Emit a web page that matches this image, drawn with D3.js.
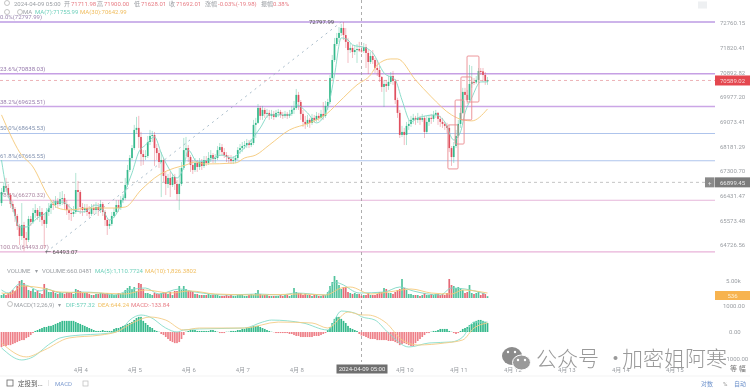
<!DOCTYPE html>
<html>

<head>
    <meta charset="utf-8">
    <script src="https://d3js.org/d3.v7.min.js"></script>
    <style>
        html, body { margin: 0; background: #fff; overflow: hidden; }
        svg { display: block; filter: blur(0.45px); }
        text { font-family: Roboto, "Noto Sans CJK SC", sans-serif; }
    </style>
    <script>
        const w = 750
        const h = 389

        const firstOpen = 66173
        const closes = [
            66560,66772,66701,66453,66139,65966,65725,65380,65035,65414,
            64966,64897,65621,65518,65828,65932,65725,65863,65587,65449,
            65863,66001,66139,66104,66242,66139,66312,66347,66139,65932,
            65828,65794,65863,66630,66560,66035,65932,66001,65863,65794,
            66001,65932,66035,65932,66139,65863,65587,65380,65449,65725,
            65863,66104,66001,66277,66347,66807,67338,67763,68119,68774,
            68847,68519,67905,67798,67834,68337,68556,68592,68119,67940,
            67621,67692,67126,66843,67055,66807,67090,66843,66489,66843,
            67409,68046,68119,67798,67515,67338,67586,67444,67621,67480,
            67692,67586,67763,67869,67727,67763,68046,68155,67975,67869,
            67798,67727,67657,67692,67763,68046,68119,68192,68228,68301,
            68228,68301,68956,69029,69575,69284,69502,69356,69393,69284,
            69356,69247,69393,69429,69320,69284,69356,69284,69356,69502,
            69575,70055,69793,69356,69065,68992,69138,69029,69211,69138,
            69284,69211,69356,69284,69648,69793,70680,71355,71960,72190,
            72380,72570,72300,72040,71730,71810,71655,71730,71770,71711.98,
            71692.01,71845,71620,71280,71505,71355,71055,70980,70720,70350,
            70460,70385,70535,70755,70570,69866,69393,68592,68701,68592,
            68920,68992,69138,69211,69138,69211,69138,69211,68701,69065,
            69211,69174,69320,69393,69174,69065,68992,68920,68847,68119,
            67798,68192,68556,68992,69393,70165,70055,69866,70460,70535,
            70520,70610,70945,70930,70795,70570,70589.02
        ]
        const highs = [
            66701,66914,67055,66843,66524,66242,66035,65794,65449,66173,
            65518,65173,65725,65725,66001,66139,66001,66070,66001,65828,
            66001,66173,66277,66277,66418,66347,66560,66595,66489,66277,
            66139,66001,66070,67232,66949,66630,66173,66139,66139,66070,
            66139,66139,66208,66173,66277,66208,65932,65656,65587,65863,
            66001,66277,66277,66418,66489,67055,67515,67869,68228,68956,
            69247,69284,68701,68046,68046,68556,68774,68738,68701,68264,
            68046,67975,67763,67268,67197,67268,67197,67197,66984,67409,
            67621,68483,68519,68228,67869,67692,67763,67692,67763,67727,
            67834,67834,67975,68046,67940,67905,68192,68301,68264,68119,
            67975,67869,67869,67834,67869,68155,68264,68337,68374,68446,
            68410,68446,69138,69211,69720,69648,69648,69575,69538,69502,
            69502,69466,69502,69538,69502,69429,69466,69429,69502,69648,
            69830,70275,70165,69866,69502,69284,69320,69211,69356,69320,
            69429,69393,69502,69793,69830,69910,70795,71545,72190,72380,
            72605,72720,72797.99,72570,72190,72000,71925,71885,71960,72040,
            71900,72000,71960,71730,71655,71730,71430,71355,71130,70755,
            70610,70610,70755,70905,70945,70645,69950,69502,68920,68847,
            69065,69138,69284,69356,69284,69393,69284,69356,69284,69284,
            69320,69356,69466,69502,69429,69284,69211,69065,69029,68956,
            68192,68337,68774,69138,69575,70315,70315,70240,71170,71130,
            70680,70755,71055,71055,71055,70905,70720
        ]
        const lows = [
            66070,66489,66560,66347,66001,65863,65518,65242,64725,64897,
            64518,64690,64828,65380,65449,65656,65587,65518,65380,64621,
            65311,65725,65794,65932,66001,66001,66070,66104,65932,65759,
            65587,65552,65690,65794,65863,65794,65725,65828,65725,65656,
            65725,65794,65794,65725,65828,65725,65380,65069,65276,65380,
            65656,65794,65863,65932,66173,66277,66737,67268,67692,68046,
            68628,68119,67480,67515,67692,67763,68228,68337,67480,67692,
            67409,66383,66914,66453,66701,66383,66737,66630,66277,65932,
            66772,67338,67834,67621,67268,67197,67268,67268,67338,67338,
            67409,67480,67515,67621,67586,67586,67692,67869,67834,67763,
            67621,67586,67550,67550,67586,67692,67905,67975,68082,68119,
            68119,68155,68228,68483,68992,69138,69138,69211,69211,69138,
            69174,69138,69211,69247,69211,69174,69211,69174,69211,69284,
            69356,69502,69502,69138,68883,68810,68883,68847,68956,69029,
            69065,69102,69138,69138,69211,69502,69720,70610,71280,71885,
            72040,72265,72110,71810,71245,71620,71430,71545,71245,71655,
            71628.01,71620,71055,70830,71205,71205,70870,70755,70535,70165,
            69611,70165,70240,70460,70425,69720,69211,68483,68519,68228,
            68228,68774,68883,68992,68956,69029,68956,69065,68483,68628,
            68920,68992,69065,69211,68956,68883,68847,68774,68665,67975,
            67480,67586,68119,68483,68847,69356,69866,69720,69793,70315,
            70425,70460,70495,70795,70535,70425,70425
        ]
        const volumes = [
            880,1180,880,1470,1760,2350,2060,3530,5000,5290,
            4410,3530,2350,2060,2650,1760,2060,1470,1180,4120,
            2940,1760,1760,2060,1470,1180,1760,1470,1180,1760,
            1470,1470,1180,2650,2350,2060,1470,1470,1470,1180,
            880,880,1180,1180,1470,1470,1180,1470,880,1180,
            880,880,1470,1180,1470,2350,2940,3530,2650,3230,
            2060,4410,4120,2650,1470,1470,1180,880,1470,1180,
            1180,1470,1760,1470,1180,1760,880,2060,2060,3530,
            2350,3530,2650,2060,2060,1760,1180,1180,880,880,
            880,880,1180,880,880,880,880,590,590,590,
            880,590,880,590,590,880,880,880,590,590,
            880,1180,880,1470,2350,1180,880,880,880,590,
            590,590,590,590,880,590,880,880,590,880,
            2940,1760,1470,1470,880,1180,880,880,590,880,
            880,590,590,880,880,1760,3530,4700,6470,5290,
            3820,2650,3230,3230,1760,1470,1180,1470,1180,1180,
            660,880,880,1470,880,880,880,1180,1760,1760,
            2940,2650,1470,1470,1180,1760,2350,2650,5590,2940,
            2350,1180,1180,880,880,880,590,880,1470,880,
            880,1180,880,1180,1180,880,1180,880,1470,5590,
            3820,3530,2940,3230,2940,2350,1470,1760,3820,1470,
            1180,1470,1760,880,1470,1180,536
        ]
        const macdHist = [
            -570,-530,-530,-495,-495,-455,-420,-380,-340,-305,
            -305,-230,-190,-115,-40,40,75,115,150,190,
            190,230,230,265,305,340,380,420,420,420,
            420,420,420,380,340,305,265,230,190,150,
            115,75,40,40,40,75,40,40,40,40,
            115,150,150,190,230,265,305,340,380,455,
            530,570,570,420,340,265,190,150,75,40,
            10,-75,-115,-190,-265,-340,-380,-420,-420,-380,
            -265,-115,10,40,75,75,75,40,40,40,
            40,40,40,75,75,40,10,-40,-40,-40,
            10,10,40,40,40,75,75,115,115,150,
            150,190,230,230,230,190,150,115,75,40,
            10,-10,-40,-40,-40,-40,-40,-40,-75,-75,
            -115,-150,-150,-190,-190,-190,-190,-190,-190,-150,
            -150,-150,-115,-75,-40,75,190,340,495,570,
            570,495,420,340,230,150,115,75,40,-75,
            -133.84,-150,-190,-230,-265,-265,-265,-305,-305,-305,
            -305,-305,-340,-340,-340,-380,-420,-495,-455,-420,
            -455,-495,-530,-530,-420,-340,-265,-190,-115,-40,
            -40,10,40,40,75,115,115,115,115,40,
            10,-40,-75,-40,40,115,150,190,265,305,
            380,420,455,455,420,380,340
        ]

        // moving averages at their bends: [candle, value]
        const ma7 = [[0,67692],[2,66737],[5,66001],[8,65345],[11,65345],[16,65656],[20,65863],[23,66208],[27,66208],[32,65932],[36,65863],[42,66104],[45,65932],[48,65587],[53,66104],[56,66807],[58,67232],[61,67975],[64,68228],[68,68519],[71,67940],[74,67444],[78,67055],[81,67444],[83,68046],[87,67621],[92,67692],[98,67869],[102,67763],[107,68046],[110,68301],[115,68847],[119,69320],[128,69320],[131,69684],[136,69393],[140,69029],[145,69575],[148,70795],[151,72190],[154,72110],[156,71925],[162,71810],[165,71620],[170,70870],[175,70610],[178,69866],[182,69065],[185,69211],[193,69320],[197,69065],[201,68410],[204,68701],[206,69393],[209,69950],[213,70535],[216,70535]]
        const ma30 = [[0,69320],[4,68592],[8,67975],[14,67444],[21,66383],[25,66001],[30,65932],[39,66001],[50,66001],[55,66035],[62,66630],[70,67161],[77,67409],[82,67515],[86,67621],[90,67550],[104,67586],[108,67763],[113,67869],[119,68228],[128,68774],[137,69029],[145,69393],[150,69793],[158,70425],[164,70795],[167,71170],[173,71395],[176,71395],[184,70610],[191,69985],[200,69320],[205,69138],[209,69102],[216,69538]]
        const volMa5 = [[0,2350],[3,1470],[8,4120],[12,3530],[17,2060],[20,2650],[26,1470],[35,1760],[44,1470],[50,880],[57,2350],[64,2940],[70,1180],[79,2650],[86,1760],[101,880],[114,1180],[124,880],[131,1470],[144,880],[148,4700],[151,4120],[159,1470],[170,1760],[177,3230],[183,2060],[195,880],[200,2940],[206,2650],[215,1180]]
        const volMa10 = [[0,1470],[4,1180],[9,3530],[18,2940],[26,1760],[44,1470],[55,1180],[64,2350],[75,1470],[84,2060],[95,1180],[115,880],[133,1180],[144,880],[151,2940],[155,3230],[164,1180],[175,2060],[182,2650],[191,1470],[200,1180],[205,2350],[216,1470]]
        const dif = [[0,-600],[9,-1055],[13,-980],[22,-415],[26,-225],[35,-115],[44,-75],[48,-40],[53,75],[57,450],[62,640],[66,565],[73,150],[78,0],[81,75],[88,115],[108,150],[116,375],[120,450],[134,340],[145,75],[151,790],[157,715],[160,577.32],[166,450],[172,-40],[181,-565],[190,-415],[200,-375],[205,-190],[210,375],[216,375]]
        const dea = [[0,-415],[11,-940],[19,-680],[30,-225],[44,-115],[51,0],[59,375],[66,565],[73,450],[81,75],[88,150],[108,150],[123,375],[138,340],[145,150],[154,755],[160,644.24],[163,640],[171,340],[178,-300],[185,-490],[197,-415],[205,-300],[210,150],[216,340]]

        const priceTicks = [72760.15, 71820.41, 70892.82, 69977.20, 69073.41, 68181.29, 67300.70, 66431.47, 65573.48, 64726.56]
        const dayTicks = [35, 59, 83, 107, 131, 179, 203, 227, 251, 275, 299]
        const dayLabels = ["4月 4", "4月 5", "4月 6", "4月 7", "4月 8", "4月 10", "4月 11", "4月 12", "4月 13", "4月 14", "4月 15"]

        const fibPrices = [72797.99, 70838.03, 69625.51, 68645.53, 67665.55, 66270.32, 64493.07]
        const fibLabels = ["0.0%(72797.99)", "23.6%(70838.03)", "38.2%(69625.51)", "50.0%(68645.53)", "61.8%(67665.55)", "78.6%(66270.32)", "100.0%(64493.07)"]
        const fibColors = ["#cdb4ea", "#c69fe4", "#cba6e6", "#aec4ec", "#aec4ec", "#e6b6da", "#e8b2d8"]
        const fibWidths = [1.8, 1.4, 1.6, 1.1, 1.1, 1.1, 1.1]

        // hand drawn boxes: [first candle, last candle, top price, bottom price]
        const boxes = [
            [198.4, 202.9, 68956, 67374],
            [201.6, 205.6, 69866, 68264],
            [204.2, 209, 70720, 69138],
            [206.9, 212.2, 71505, 69793]
        ]

        const lastPrice = 70589.02
        const crossPrice = 66899.45
        const crossCandle = 160

        const up = "#35b98c"
        const down = "#e0505f"
        const teal = "#7fd8c4"
        const orange = "#f5c878"
        const grey = "#9a9ea3"

        function doSVG() {
            const svg = d3.select("body").append("svg")
                .attr("width", w)
                .attr("height", h)

            const x = d3.scaleLinear().domain([0, 216]).range([1.5, 487.5])
            const y = d3.scaleLog().domain([72760.15, 64726.56]).range([23, 245])
            const yVol = d3.scaleLinear().domain([0, 5000]).range([298, 281])
            const yMacd = d3.scaleLinear().domain([-1000, 1000]).range([358.5, 305.5])

            const opens = closes.map((c, i) => i == 0 ? firstOpen : closes[i - 1])
            const candleColor = i => closes[i] >= opens[i] ? up : down
            const idx = d3.range(closes.length)

            // fibonacci levels
            svg.selectAll(".fib")
                .data(fibPrices)
                .enter()
                .append("line")
                .attr("x1", 0)
                .attr("x2", 715)
                .attr("y1", d => y(d))
                .attr("y2", d => y(d))
                .attr("stroke", (d, i) => fibColors[i])
                .attr("stroke-width", (d, i) => fibWidths[i])

            svg.selectAll(".fibLabel")
                .data(fibLabels)
                .enter()
                .append("text")
                .attr("x", 0)
                .attr("y", (d, i) => y(fibPrices[i]) - 3)
                .attr("font-size", 6)
                .attr("fill", (d, i) => d3.color(fibColors[i]).darker(0.8))
                .text(d => d)

            // trend line of the fibonacci tool
            svg.append("line")
                .attr("x1", x(20))
                .attr("y1", y(64493.07))
                .attr("x2", x(151))
                .attr("y2", y(72797.99))
                .attr("stroke", "#9fb4c4")
                .attr("stroke-width", 0.9)
                .attr("stroke-dasharray", "2 4")

            svg.append("text").attr("x", 45).attr("y", 254).attr("font-size", 6).attr("fill", "#555").text("← 64493.07")
            svg.append("text").attr("x", 309).attr("y", 24).attr("font-size", 6).attr("fill", "#555").text("72797.99")

            // price and crosshair lines
            svg.append("line").attr("x1", 0).attr("x2", 715).attr("y1", y(lastPrice)).attr("y2", y(lastPrice))
                .attr("stroke", "#e9a0a4").attr("stroke-width", 0.8).attr("stroke-dasharray", "3 3")
            svg.append("line").attr("x1", 0).attr("x2", 705).attr("y1", y(crossPrice)).attr("y2", y(crossPrice))
                .attr("stroke", "#b5b5b5").attr("stroke-width", 0.8).attr("stroke-dasharray", "3 3")
            svg.append("line").attr("x1", x(crossCandle)).attr("x2", x(crossCandle)).attr("y1", 0).attr("y2", 362)
                .attr("stroke", "#999").attr("stroke-width", 0.8).attr("stroke-dasharray", "3 3")

            // candles
            svg.selectAll(".wick")
                .data(idx)
                .enter()
                .append("line")
                .attr("x1", i => x(i))
                .attr("x2", i => x(i))
                .attr("y1", i => y(highs[i]))
                .attr("y2", i => y(lows[i]))
                .attr("stroke", candleColor)
                .attr("stroke-opacity", 0.55)
                .attr("stroke-width", 0.7)

            svg.selectAll(".body")
                .data(idx)
                .enter()
                .append("rect")
                .attr("x", i => x(i) - 0.85)
                .attr("width", 1.7)
                .attr("y", i => Math.min(y(opens[i]), y(closes[i])))
                .attr("height", i => Math.max(1, Math.abs(y(opens[i]) - y(closes[i]))))
                .attr("fill", candleColor)

            const line = (sy) => d3.line().x(d => x(d[0])).y(d => sy(d[1])).curve(d3.curveMonotoneX)
            const drawLine = (data, sy, color) => svg.append("path")
                .attr("d", line(sy)(data))
                .attr("fill", "none")
                .attr("stroke", color)
                .attr("stroke-width", 0.9)

            drawLine(ma7, y, teal)
            drawLine(ma30, y, orange)

            svg.selectAll(".box")
                .data(boxes)
                .enter()
                .append("rect")
                .attr("x", d => x(d[0]))
                .attr("width", d => x(d[1]) - x(d[0]))
                .attr("y", d => y(d[2]))
                .attr("height", d => y(d[3]) - y(d[2]))
                .attr("rx", 1)
                .attr("fill", "none")
                .attr("stroke", "#ea8a8e")
                .attr("stroke-width", 0.9)

            // volume
            svg.selectAll(".vol")
                .data(idx)
                .enter()
                .append("rect")
                .attr("x", i => x(i) - 0.85)
                .attr("width", 1.7)
                .attr("y", i => yVol(volumes[i]))
                .attr("height", i => yVol(0) - yVol(volumes[i]))
                .attr("fill", candleColor)
                .attr("fill-opacity", 0.85)

            drawLine(volMa5, yVol, teal)
            drawLine(volMa10, yVol, orange)

            // macd
            svg.selectAll(".hist")
                .data(idx)
                .enter()
                .append("rect")
                .attr("x", i => x(i) - 0.85)
                .attr("width", 1.7)
                .attr("y", i => Math.min(yMacd(0), yMacd(macdHist[i])))
                .attr("height", i => Math.abs(yMacd(macdHist[i]) - yMacd(0)))
                .attr("fill", i => macdHist[i] >= 0 ? up : "#ee8088")

            drawLine(dif, yMacd, "#86dccb")
            drawLine(dea, yMacd, "#f4cc86")

            // axes
            const priceAxis = svg.append("g")
                .attr("transform", "translate(716,0)")
                .call(d3.axisRight(y).tickValues(priceTicks).tickFormat(d3.format(".2f")).tickSize(0).tickPadding(4))
            const volAxis = svg.append("g")
                .attr("transform", "translate(716,0)")
                .call(d3.axisRight(yVol).tickValues([5000]).tickFormat(d => "5.00k").tickSize(0).tickPadding(10))
            const macdAxis = svg.append("g")
                .attr("transform", "translate(716,0)")
                .call(d3.axisRight(yMacd).tickValues([1000, 0, -1000]).tickFormat(d3.format(".2f")).tickSize(0).tickPadding(0))
            const timeAxis = svg.append("g")
                .attr("transform", "translate(0,365)")
                .call(d3.axisBottom(x).tickValues(dayTicks).tickFormat((d, i) => dayLabels[i]).tickSize(0).tickPadding(3))

            for (const a of [priceAxis, volAxis, macdAxis, timeAxis]) {
                a.select(".domain").remove()
                a.selectAll("text")
                    .attr("fill", grey)
                    .attr("font-size", 6)
                    .style("font-family", 'Roboto, "Noto Sans CJK SC", sans-serif')
            }
            macdAxis.selectAll(".tick").filter(d => d == 0).select("text").attr("x", 13)
            macdAxis.selectAll(".tick").filter(d => d == 1000).select("text").attr("x", 7)
            macdAxis.selectAll(".tick").filter(d => d == -1000).select("text").attr("x", 7)

            // header and legends, [x, text, color]
            const label = (lx, ly, txt, color, size) => svg.append("text")
                .attr("x", lx).attr("y", ly).attr("font-size", size || 6).attr("fill", color).text(txt)

            const headerRow = [
                [14, "2024-04-09 05:00", grey], [64, "开", grey], [71, "71711.98", "#e77c84"],
                [97, "高", grey], [104, "71900.00", "#e77c84"], [134, "低", grey], [141, "71628.01", "#e77c84"],
                [169, "收", grey], [176, "71692.01", "#e77c84"], [205, "涨幅", grey], [218, "-0.03%(-19.98)", "#e77c84"],
                [261, "振幅", grey], [273, "0.38%", "#e77c84"]
            ]
            headerRow.forEach(d => label(d[0], 5.5, d[1], d[2]))

            const maRow = [[23, "MA", grey], [35, "MA(7):71755.99", "#6fd0bb"], [80, "MA(30):70642.99", "#f0bd5e"]]
            maRow.forEach(d => label(d[0], 14, d[1], d[2]))

            const volRow = [
                [7, "VOLUME", grey], [35, "▾", grey], [42, "VOLUME:660.0481", grey],
                [95, "MA(5):1,110.7724", "#6fd0bb"], [145, "MA(10):1,826.3802", "#f0bd5e"]
            ]
            volRow.forEach(d => label(d[0], 272.5, d[1], d[2]))

            const macdRow = [
                [14, "MACD(12,26,9)", grey], [58, "▾", grey], [66, "DIF:577.32", "#6fd0bb"],
                [98, "DEA:644.24", "#f0bd5e"], [131, "MACD:-133.84", "#e77c84"]
            ]
            macdRow.forEach(d => label(d[0], 306.5, d[1], d[2]))

            const iconAt = [[7, 3], [7, 12], [20, 12], [10, 304]]
            svg.selectAll(".icon")
                .data(iconAt)
                .enter()
                .append("circle")
                .attr("cx", d => d[0])
                .attr("cy", d => d[1])
                .attr("r", 2.5)
                .attr("fill", "none")
                .attr("stroke", "#aaa")
                .attr("stroke-width", 0.7)

            // expand button
            svg.append("rect").attr("x", 698).attr("y", 1.5).attr("width", 9).attr("height", 7).attr("fill", "#eef0f2")

            // price tags
            const tag = (ty, th, tx, tw, txt, fill, color) => {
                svg.append("rect").attr("x", tx).attr("y", ty - th / 2).attr("width", tw).attr("height", th).attr("fill", fill)
                svg.append("text").attr("x", tx + tw / 2).attr("y", ty + 2.2).attr("text-anchor", "middle")
                    .attr("font-size", 6).attr("fill", color).text(txt)
            }
            tag(y(lastPrice), 10, 715, 35, d3.format(".2f")(lastPrice), "#e4474f", "#f7d5d5")
            tag(y(crossPrice), 10, 715, 35, d3.format(".2f")(crossPrice), "#7b7b7b", "#e8e8e8")
            tag(y(crossPrice), 10, 705, 9.5, "+", "#8a8a8a", "#e8e8e8")
            tag(295.5, 9, 715, 35, "536", "#f7b34f", "#fdeed2")
            tag(369, 9, x(crossCandle) - 25, 51, "2024-04-09 05:00", "#6f6f6f", "#eee")

            // bottom bar
            svg.append("line").attr("x1", 0).attr("x2", w).attr("y1", 376).attr("y2", 376).attr("stroke", "#eee").attr("stroke-width", 0.7)
            svg.append("rect").attr("x", 7).attr("y", 380).attr("width", 6).attr("height", 6).attr("fill", "none").attr("stroke", "#666").attr("stroke-width", 0.8)
            label(18, 386, "定投到...", "#555", 6.5)
            svg.append("line").attr("x1", 48.5).attr("x2", 48.5).attr("y1", 380).attr("y2", 386).attr("stroke", "#ddd").attr("stroke-width", 0.7)
            label(55, 386, "MACD", "#7d9bd0", 6)
            svg.append("rect").attr("x", 83).attr("y", 381).attr("width", 5).attr("height", 5).attr("fill", "none").attr("stroke", "#bbb").attr("stroke-width", 0.7)
            label(701, 386, "对数", "#6f93cc", 6)
            label(723, 386, "%", "#999", 6)
            label(734, 386, "自动", "#6f93cc", 6)
            label(730, 371, "等 幅", "#777", 7)

            // watermark
            svg.append("ellipse").attr("cx", 512).attr("cy", 356).attr("rx", 10).attr("ry", 9).attr("fill", "#8c8c8c")
            svg.append("ellipse").attr("cx", 521.5).attr("cy", 362.5).attr("rx", 9).attr("ry", 7.5).attr("fill", "#9a9a9a").attr("stroke", "#fff").attr("stroke-width", 1)
            const eyes = [[508, 352], [515, 352], [518, 360], [525, 360]]
            svg.selectAll(".eye")
                .data(eyes)
                .enter()
                .append("circle")
                .attr("cx", d => d[0])
                .attr("cy", d => d[1])
                .attr("r", 1.2)
                .attr("fill", "#fff")
            const mark = (mx, txt) => svg.append("text")
                .attr("x", mx).attr("y", 366).attr("font-size", 21).attr("fill", "#999")
                .style("font-family", '"Noto Sans CJK SC"').style("font-weight", 300).text(txt)
            mark(536, "公众号")
            mark(605, "·")
            mark(622, "加密姐阿寒")
        }
    </script>
</head>

<body onload="doSVG()">
</body>

</html>
